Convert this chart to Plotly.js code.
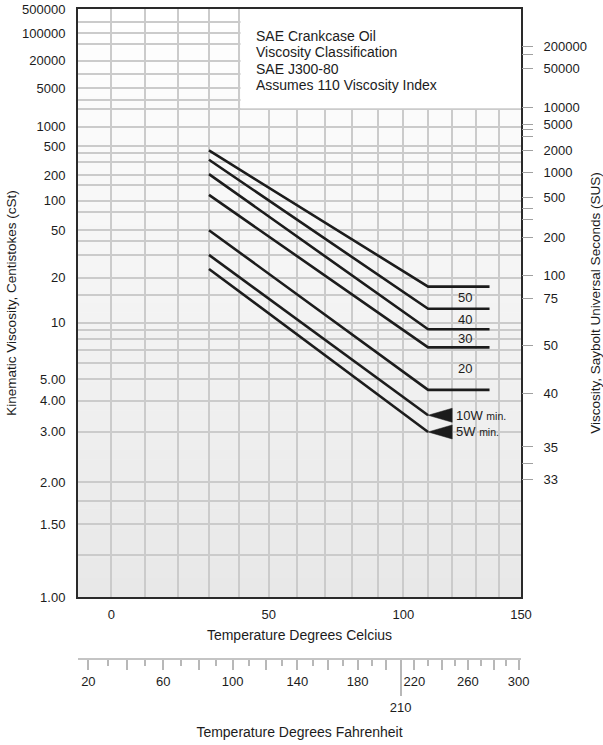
<!DOCTYPE html>
<html><head><meta charset="utf-8">
<script src="https://cdn.plot.ly/plotly-3.0.1.min.js"></script>
<style>html,body{margin:0;padding:0;background:#fff}</style>
</head><body><div id="chart" style="width:603px;height:745px"></div>
<script>
// ---------- data ----------
const gradeLabels   = ['', '50', '40', '30', '20', '10W', '5W'];
const visc30C       = [430, 318, 206, 116, 50, 30.2, 23.3];   // cSt at 30 °C
const visc110C      = [17.2, 12.2, 9.14, 7.24, 4.47, 3.48, 2.99]; // cSt at 110 °C
const hasPlateau    = [true, true, true, true, true, false, false];
const tempStartC = 30, tempBreakC = 110, tempEndC = 136, tempArrowBaseC = 120, tempLabelC = 125.6;

const cstTickVals  = [1, 1.5, 2, 3, 4, 5, 10, 20, 50, 100, 200, 500, 1000, 5000, 20000, 100000, 500000];
const cstTickText  = ['1.00','1.50','2.00','3.00','4.00','5.00','10','20','50','100','200','500','1000','5000','20000','100000','500000'];
const cstGridVals  = [1.25, 1.75, 6, 7, 8, 9, 15, 30, 40, 75, 150, 300, 400, 2000, 3000, 10000, 50000, 200000];
const susTickText  = ['200000','50000','10000','5000','2000','1000','500','200','100','75','50','40','35','33'];
const susTickCst   = [43150, 13500, 2158, 1079, 431.5, 215.8, 107.9, 43.2, 20.65, 14.3, 7.4, 4.3, 2.63, 2.04];
const susMinorCst  = [27700, 890, 697, 83, 63.9, 2.30];

const celsiusTicks = [0, 50, 100, 150];
const celsiusGrid  = [10, 20, 30, 40, 60, 70, 80, 90, 110, 120, 130, 140];
const fahrMajor    = [20, 40, 60, 80, 100, 120, 140, 160, 180, 200, 220, 240, 260, 280, 300];
const fahrLabelled = [20, 60, 100, 140, 180, 220, 260, 300];
const fahrMinor    = [30, 50, 70, 90, 110, 130, 150, 170, 190, 210, 230, 250, 270, 290];
const fahrSpecial  = [210];
const noteLines    = ['SAE Crankcase Oil', 'Viscosity Classification', 'SAE J300-80', 'Assumes 110 Viscosity Index'];

// ---------- scales (Walther viscosity scale, log absolute temperature) ----------
const W = v => Math.log10(Math.log10(v + 0.7));
const X = c => Math.log10(c + 273.15);
const F2C = f => (f - 32) * 5 / 9;

const xRange = [X(-9.6), X(150)];
const yRange = [W(1), W(500000)];

const FONT = 'Liberation Sans, Arial, sans-serif';
const INK = '#1c1c1c';
const GRID = '#cbcbcb';
const TICKGRAY = '#b8b8b8';

// ---------- traces ----------
const traces = [];
for (let i = 0; i < visc30C.length; i++) {
  const xs = [X(tempStartC), X(tempBreakC)];
  const ys = [W(visc30C[i]), W(visc110C[i])];
  if (hasPlateau[i]) { xs.push(X(tempEndC)); ys.push(W(visc110C[i])); }
  traces.push({x: xs, y: ys, mode: 'lines', line: {color: INK, width: 2.6}, hoverinfo: 'skip', showlegend: false});
  if (!hasPlateau[i]) {
    const h = 7 * (yRange[1] - yRange[0]) / 588; // half arrow height, px -> axis units
    const yv = W(visc110C[i]);
    traces.push({x: [X(tempBreakC), X(tempArrowBaseC), X(tempArrowBaseC), X(tempBreakC)],
                 y: [yv, yv + h, yv - h, yv], mode: 'lines', fill: 'toself', fillcolor: INK,
                 line: {color: INK, width: 0.5}, hoverinfo: 'skip', showlegend: false});
  }
}
// empty traces to register secondary axes
traces.push({x: [], y: [], xaxis: 'x', yaxis: 'y2', showlegend: false, hoverinfo: 'skip'});
traces.push({x: [], y: [], xaxis: 'x2', yaxis: 'y', showlegend: false, hoverinfo: 'skip'});
traces.push({x: [], y: [], xaxis: 'x3', yaxis: 'y', showlegend: false, hoverinfo: 'skip'});

// ---------- annotations ----------
const annotations = [];
for (let i = 1; i <= 4; i++) {
  annotations.push({x: X(tempLabelC), y: (W(visc110C[i - 1]) + W(visc110C[i])) / 2, xref: 'x', yref: 'y',
    text: gradeLabels[i], showarrow: false, font: {family: FONT, size: 13, color: INK}});
}
for (let i = 5; i <= 6; i++) {
  annotations.push({x: X(tempArrowBaseC), y: W(visc110C[i]), xref: 'x', yref: 'y', xanchor: 'left', xshift: 2,
    text: gradeLabels[i] + ' <span style="font-size:10.5px">min.</span>', showarrow: false,
    font: {family: FONT, size: 13, color: INK}});
}
const noteY = [36, 52.5, 69, 85.5];
noteLines.forEach((t, k) => {
  annotations.push({xref: 'paper', yref: 'paper', x: (254 - 78) / 443, y: (730 - noteY[k]) / 721,
    xanchor: 'left', yanchor: 'middle', text: t, showarrow: false, font: {family: FONT, size: 14, color: INK}});
});

// ---------- shapes: vertical gradient background + white note box ----------
const shapes = [];
const N = 60;
for (let k = 0; k < N; k++) {
  const g = Math.round(255 - (N - 1 - k) / (N - 1) * 23);
  shapes.push({type: 'rect', xref: 'x domain', yref: 'y domain', x0: 0, x1: 1, y0: k / N, y1: (k + 1) / N + 0.001,
    fillcolor: `rgb(${g},${g},${g})`, line: {width: 0}, layer: 'below'});
}
shapes.push({type: 'rect', xref: 'x', yref: 'y', x0: X(40.4), x1: X(150), y0: W(2060), y1: W(500000),
  fillcolor: '#ffffff', line: {width: 0}, layer: 'between'});

const fLabel = f => fahrLabelled.includes(f) ? String(f) : '';

const layout = {
  width: 603, height: 745,
  margin: {l: 78, r: 82, t: 9, b: 15},
  paper_bgcolor: '#ffffff', plot_bgcolor: '#ffffff',
  showlegend: false,
  font: {family: FONT, color: INK},
  xaxis: {
    range: xRange, tickmode: 'array', tickvals: celsiusTicks.map(X), ticktext: celsiusTicks.map(String),
    ticks: 'outside', ticklen: 4, tickcolor: 'rgba(0,0,0,0)', tickfont: {family: FONT, size: 13, color: INK},
    showgrid: true, gridcolor: GRID, gridwidth: 1.5,
    minor: {tickvals: celsiusGrid.map(X), showgrid: true, gridcolor: GRID, gridwidth: 1.5, ticks: ''},
    showline: true, mirror: true, linecolor: '#2a2a2a', linewidth: 2, zeroline: false,
    title: {text: 'Temperature Degrees Celcius', font: {family: FONT, size: 14, color: INK}, standoff: 10}
  },
  yaxis: {
    domain: [(730 - 597) / 721, 1], range: yRange, tickmode: 'array',
    tickvals: cstTickVals.map(W), ticktext: cstTickText,
    ticks: 'outside', ticklen: 8, tickcolor: 'rgba(0,0,0,0)', tickfont: {family: FONT, size: 13, color: INK},
    showgrid: true, gridcolor: GRID, gridwidth: 1.5,
    minor: {tickvals: cstGridVals.map(W), showgrid: true, gridcolor: GRID, gridwidth: 1.5, ticks: ''},
    showline: true, mirror: true, linecolor: '#2a2a2a', linewidth: 2, zeroline: false,
    title: {text: 'Kinematic Viscosity, Centistokes (cSt)', font: {family: FONT, size: 13.5, color: INK}, standoff: 2}
  },
  yaxis2: {
    overlaying: 'y', side: 'right', anchor: 'x', range: yRange, tickmode: 'array',
    tickvals: susTickCst.map(W), ticktext: susTickText,
    ticks: 'outside', ticklen: 11, tickwidth: 1.3, tickcolor: '#a0a0a0', ticklabelstandoff: 8,
    tickfont: {family: FONT, size: 13, color: INK},
    minor: {tickvals: susMinorCst.map(W), ticks: 'outside', ticklen: 11, tickwidth: 1.3, tickcolor: '#a0a0a0', showgrid: false},
    showgrid: false, zeroline: false, showline: false,
    title: {text: 'Viscosity, Saybolt Universal Seconds (SUS)', font: {family: FONT, size: 13.5, color: INK}, standoff: 4}
  },
  xaxis2: {
    overlaying: 'x', anchor: 'free', position: (730 - 659) / 721, side: 'bottom', range: xRange,
    tickmode: 'array', tickvals: fahrMajor.map(f => X(F2C(f))), ticktext: fahrMajor.map(fLabel),
    ticks: 'outside', ticklen: 10, tickwidth: 1.5, tickcolor: TICKGRAY, ticklabelstandoff: 0,
    tickfont: {family: FONT, size: 13, color: INK},
    minor: {tickvals: fahrMinor.map(f => X(F2C(f))), ticks: 'outside', ticklen: 6, tickwidth: 1.5, tickcolor: TICKGRAY, showgrid: false},
    showline: true, linecolor: '#c4c4c4', linewidth: 2, showgrid: false, zeroline: false
  },
  xaxis3: {
    overlaying: 'x', anchor: 'free', position: (730 - 659) / 721, side: 'bottom', range: xRange,
    tickmode: 'array', tickvals: fahrSpecial.map(f => X(F2C(f))), ticktext: fahrSpecial.map(String),
    ticks: 'outside', ticklen: 36, tickwidth: 1.5, tickcolor: TICKGRAY,
    tickfont: {family: FONT, size: 13, color: INK},
    showline: false, showgrid: false, zeroline: false,
    title: {text: 'Temperature Degrees Fahrenheit', font: {family: FONT, size: 14, color: INK}, standoff: 13}
  },
  annotations: annotations,
  shapes: shapes
};

Plotly.newPlot('chart', traces, layout, {displayModeBar: false});
</script>
</body></html>
